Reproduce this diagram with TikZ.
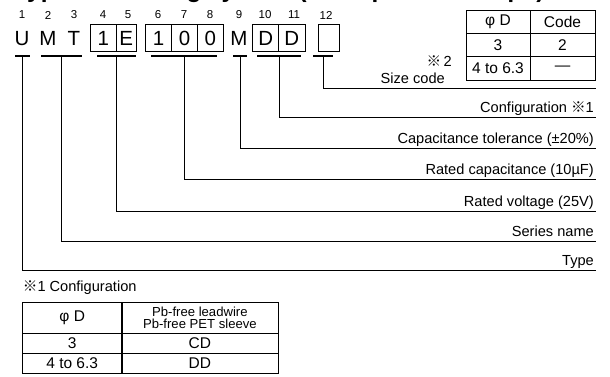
\documentclass[tikz,border=0pt]{standalone}
\usepackage{fontspec}
\setmainfont{Liberation Sans}
\newfontfamily\cjk{Noto Sans CJK JP}
\usetikzlibrary{positioning}
\newcommand{\refmark}{{\cjk ※}}
\tikzset{
  codechar/.style={inner sep=0pt, text height=14.7pt, text depth=0pt,
                   font=\fontsize{20.5}{20.5}\selectfont},
  codecell/.style={codechar, draw, line width=0.8pt, minimum height=27.7pt},
  posnum/.style={inner sep=0pt, font=\fontsize{11.5}{11.5}\selectfont},
  bar/.style={fill=black, inner sep=0pt, minimum height=1.7pt},
  lead/.style={draw=black, line width=0.85pt},
  partlabel/.style={anchor=base east, inner sep=0pt, font=\fontsize{14.6}{14.6}\selectfont},
  tcell/.style={draw, line width=0.8pt, inner sep=0pt, align=center,
                font=\fontsize{15.5}{15.5}\selectfont},
  headtext/.style={font=\fontsize{13.1}{12.2}\selectfont}
}

\begin{document}
\begin{tikzpicture}[x=1pt, y=-1pt]
  \useasboundingbox (0,0) rectangle (610,376);
  % heading, mostly outside the page
  \node[anchor=base west, inner sep=0pt, font=\bfseries\fontsize{24.3}{24.3}\selectfont]
    (title) at (14,-2.5) {Type numbering system (Example : 25V 10µF)};

  % code characters
  \node[codechar] (c1) at (22,38.5) {U};
  \node[codechar] (c2) at (48,38.5) {M};
  \node[codechar] (c3) at (74,38.5) {T};
  \node[codecell, minimum width=25.3pt] (c4) at (103.3,37.9) {1};
  \node[codecell, minimum width=20.7pt] (c5) at (126.3,37.9) {E};
  \node[codecell, minimum width=25.9pt] (c6) at (158.6,37.9) {1};
  \node[codecell, minimum width=25.9pt] (c7) at (184.5,37.9) {0};
  \node[codecell, minimum width=25.9pt] (c8) at (210.4,37.9) {0};
  \node[codechar] (c9) at (239,38.5) {M};
  \node[codecell, minimum width=26pt] (c10) at (265.7,37.9) {D};
  \node[codecell, minimum width=26.3pt] (c11) at (291.8,37.9) {D};
  \node[codecell, minimum width=21pt] (c12) at (328.8,37.9) {};

  % position numbers
  \node[posnum] (n1) at (22,15) {1};
  \node[posnum] (n2) at (48,15) {2};
  \node[posnum] (n3) at (74,15) {3};
  \node[posnum] (n4) at (103,15) {4};
  \node[posnum] (n5) at (128,15) {5};
  \node[posnum] (n6) at (158,15) {6};
  \node[posnum] (n7) at (184,15) {7};
  \node[posnum] (n8) at (210,15) {8};
  \node[posnum] (n9) at (239,15) {9};
  \node[posnum] (n10) at (265,15) {10};
  \node[posnum] (n11) at (294,15) {11};
  \node[posnum] (n12) at (326,15) {12};

  % bars under the groups
  \node[bar, minimum width=15pt] (b1) at (22.5,55.7) {};
  \node[bar, minimum width=41pt] (b2) at (61.2,55.7) {};
  \node[bar, minimum width=39.3pt] (b3) at (116.3,55.7) {};
  \node[bar, minimum width=66pt] (b4) at (184.3,55.7) {};
  \node[bar, minimum width=14.6pt] (b5) at (240,55.7) {};
  \node[bar, minimum width=44pt] (b6) at (279.2,55.7) {};
  \node[bar, minimum width=20pt] (b7) at (323,55.7) {};

  % ends of the leader lines
  \coordinate (e7) at (596,88.3);
  \coordinate (e6) at (596,117.8);
  \coordinate (e5) at (596,148);
  \coordinate (e4) at (596,179.2);
  \coordinate (e3) at (596,211);
  \coordinate (e2) at (596,241.5);
  \coordinate (e1) at (596,270.7);

  \draw[lead] (b7.center) |- (e7);
  \draw[lead] (b6.center) |- (e6);
  \draw[lead] (b5.center) |- (e5);
  \draw[lead] (b4.center) |- (e4);
  \draw[lead] (b3.center) |- (e3);
  \draw[lead] (b2.center) |- (e2);
  \draw[lead] (b1.center) |- (e1);

  % labels
  \node[partlabel] (l7) at (445,83) {Size code};
  \node[partlabel] (m7) at (452,66) {\refmark\,2};
  \node[partlabel] (l6) at (594,112.8) {Configuration \refmark1};
  \node[partlabel] (l5) at (594,143) {Capacitance tolerance (±20\%)};
  \node[partlabel] (l4) at (594,174.2) {Rated capacitance (10µF)};
  \node[partlabel] (l3) at (594,206) {Rated voltage (25V)};
  \node[partlabel] (l2) at (594,236.5) {Series name};
  \node[partlabel] (l1) at (594,265.7) {Type};

  % size code table
  \node[tcell, minimum width=64pt, minimum height=23.3pt] (sz11) at (498,21.7) {φ D};
  \node[tcell, minimum width=65pt, minimum height=23.3pt] (sz12) at (562.5,21.7) {Code};
  \node[tcell, minimum width=64pt, minimum height=23.4pt] (sz21) at (498,45) {3};
  \node[tcell, minimum width=65pt, minimum height=23.4pt] (sz22) at (562.5,45) {2};
  \node[tcell, minimum width=64pt, minimum height=23.3pt] (sz31) at (498,68.4) {4 to 6.3};
  \node[tcell, minimum width=65pt, minimum height=23.3pt] (sz32) at (562.5,68.4) {—};

  % configuration table
  \node[anchor=west, inner sep=0pt, font=\fontsize{14.6}{14.6}\selectfont]
    (cfgtitle) at (22.7,287.5) {\refmark1 Configuration};
  \node[tcell, minimum width=99pt, minimum height=31.3pt] (cf11) at (72.2,317.7) {φ D};
  \node[tcell, headtext, minimum width=156pt, minimum height=31.3pt] (cf12) at (199.9,317.7)
    {Pb-free leadwire\\Pb-free PET sleeve};
  \node[tcell, minimum width=99pt, minimum height=20pt] (cf21) at (72.2,343.3) {3};
  \node[tcell, minimum width=156pt, minimum height=20pt] (cf22) at (199.9,343.3) {CD};
  \node[tcell, minimum width=99pt, minimum height=20.2pt] (cf31) at (72.2,363.4) {4 to 6.3};
  \node[tcell, minimum width=156pt, minimum height=20.2pt] (cf32) at (199.9,363.4) {DD};
\end{tikzpicture}
\end{document}
